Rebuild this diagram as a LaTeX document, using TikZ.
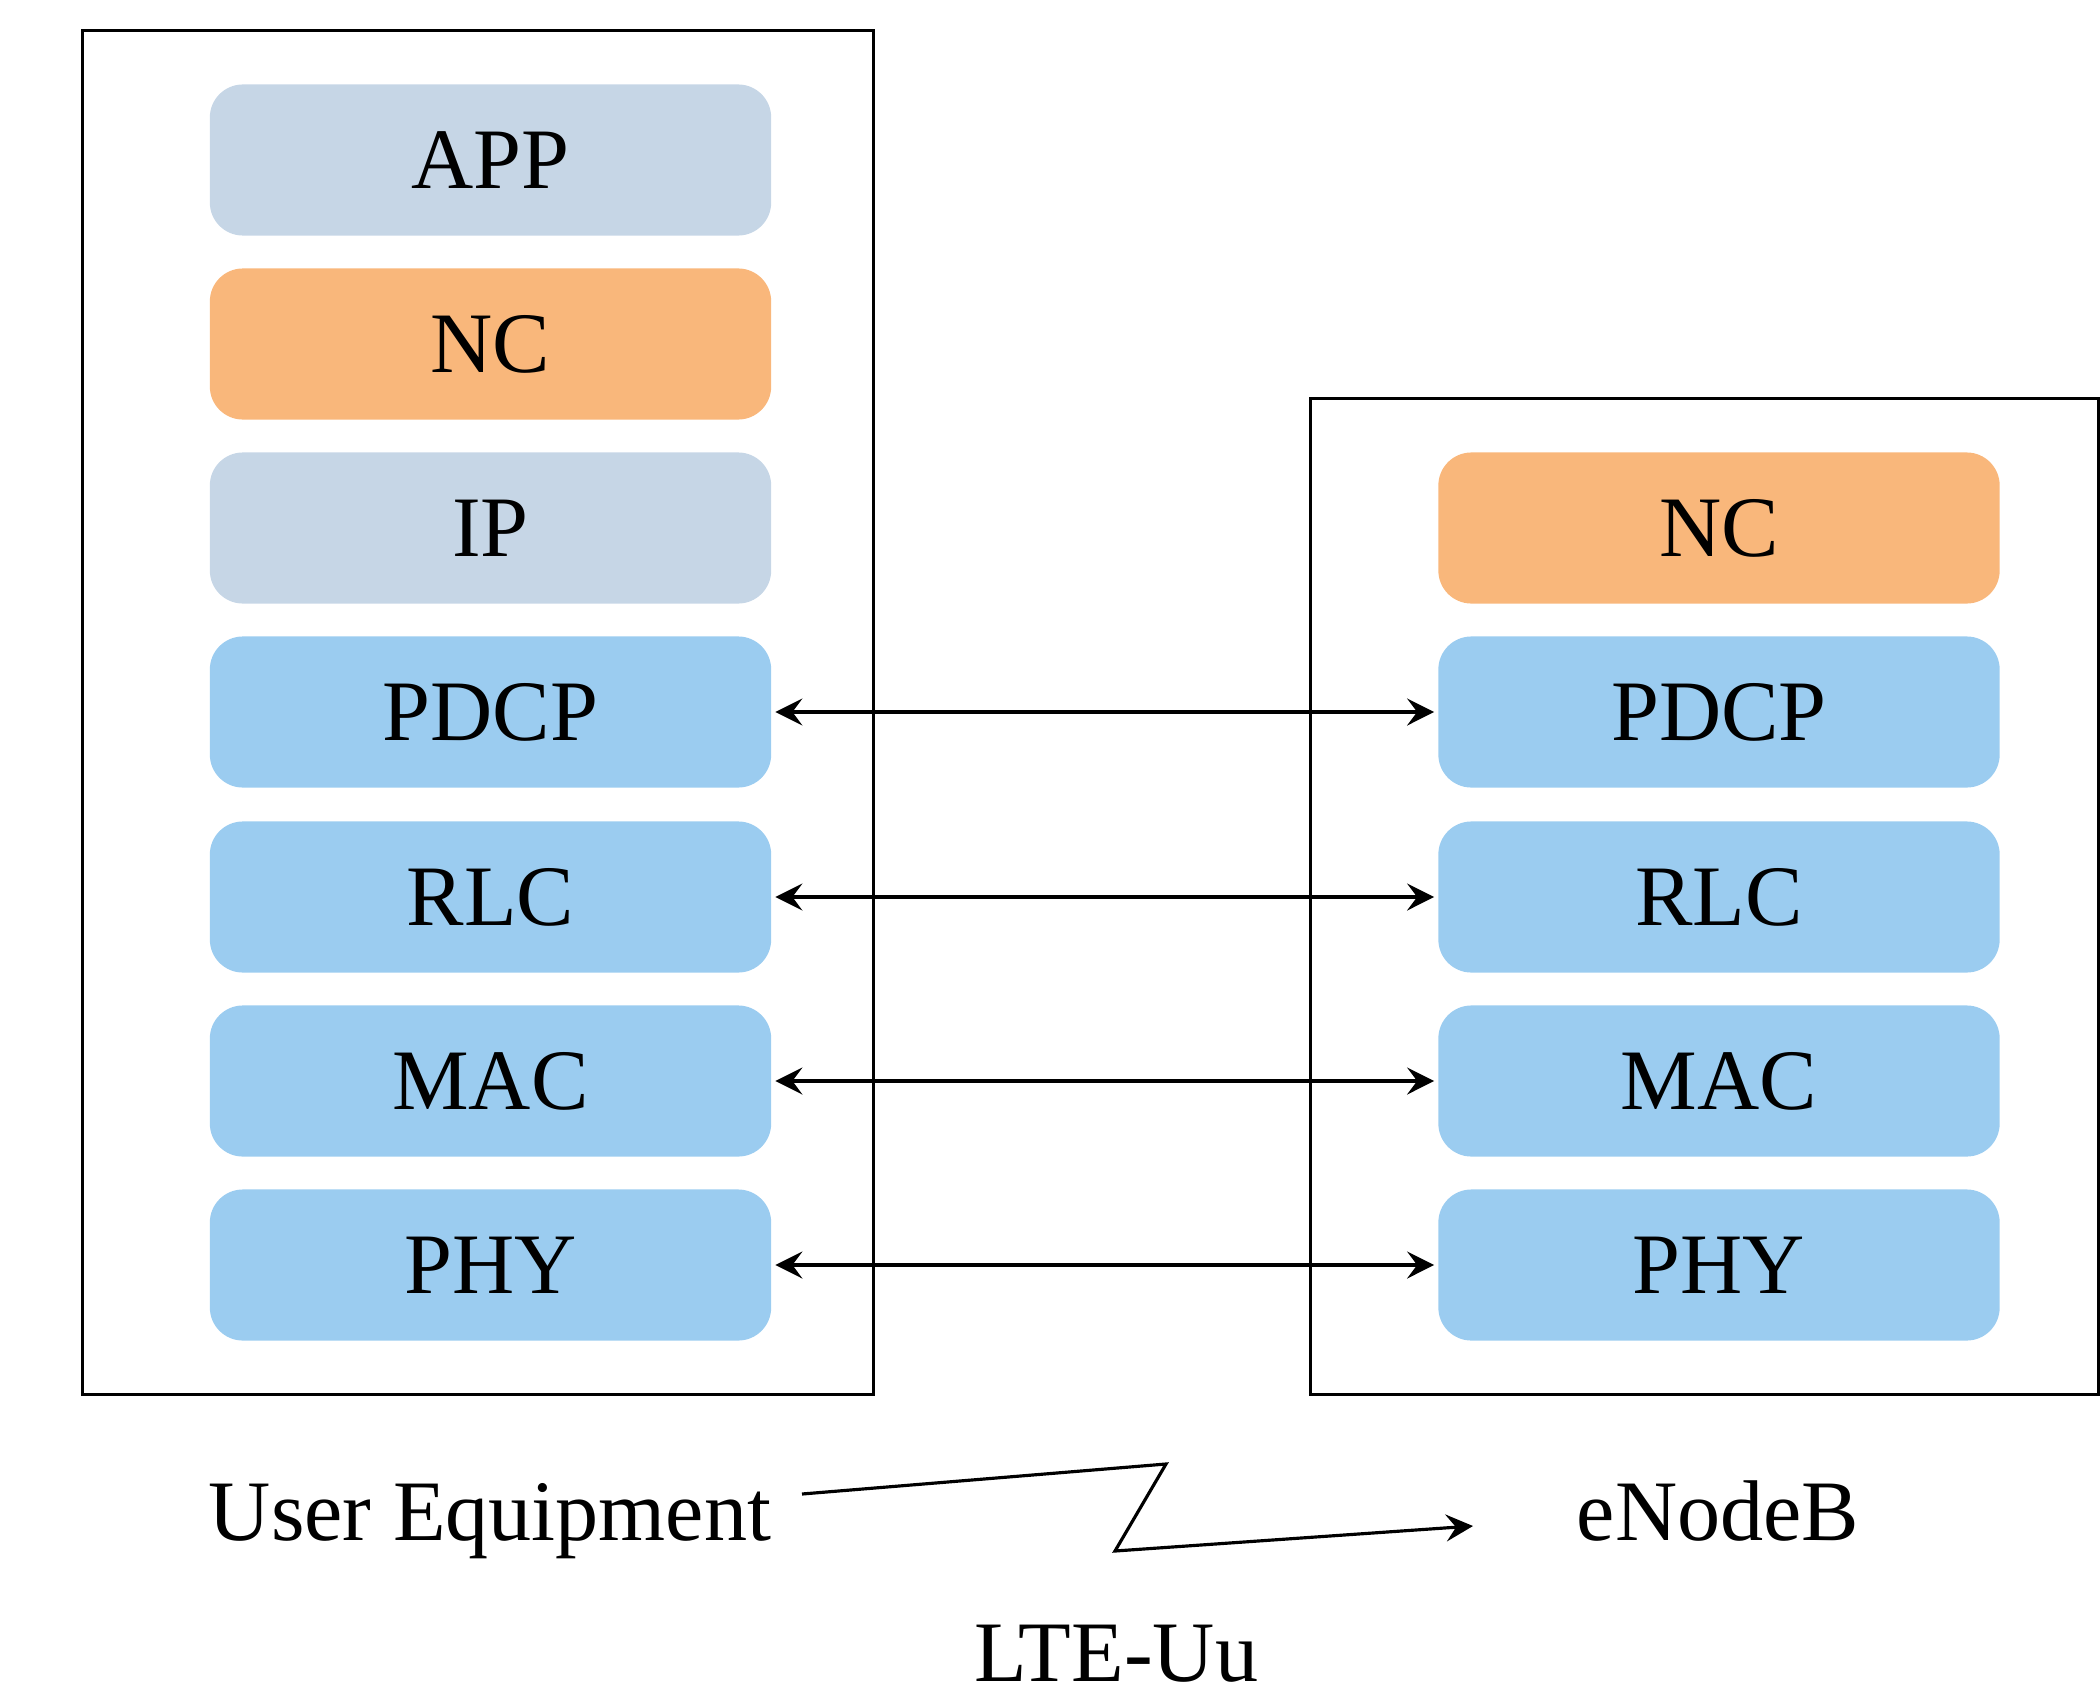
\documentclass[tikz,border=0pt]{standalone}
\usepackage{fontspec}
\setmainfont{Liberation Serif}
\usetikzlibrary{arrows.meta}
\definecolor{layergray}{RGB}{198,214,230}
\definecolor{layerorange}{RGB}{249,183,123}
\definecolor{layerblue}{RGB}{155,204,240}
\tikzset{
  layer/.style={rectangle, rounded corners=0.33cm, minimum width=5.61cm, minimum height=1.51cm, inner sep=0pt, text=black, font=\fontsize{24.5}{29}\selectfont},
  graylayer/.style={layer, fill=layergray},
  orangelayer/.style={layer, fill=layerorange},
  bluelayer/.style={layer, fill=layerblue},
  frame/.style={rectangle, draw=black, line width=0.9pt, inner sep=0pt},
  peer/.style={line width=0.9pt, {Stealth[length=0.27cm,width=0.27cm,inset=0.1cm]}-{Stealth[length=0.27cm,width=0.27cm,inset=0.1cm]}, shorten <=1pt, shorten >=1pt},
  radio/.style={line width=0.9pt, -{Stealth[length=0.27cm,width=0.27cm,inset=0.1cm]}},
  caption/.style={font=\fontsize{24.5}{29}\selectfont, anchor=base, inner sep=0pt}
}
\begin{document}
\begin{tikzpicture}[x=0.01cm,y=-0.01cm]
\useasboundingbox (0,0) rectangle (2100,1694);
% frames
\node[frame, minimum width=7.90cm, minimum height=13.63cm] (uebox) at (478,712.5) {};
\node[frame, minimum width=7.87cm, minimum height=9.95cm] (enbbox) at (1704.5,896.5) {};
% UE stack
\node[graylayer] (uapp) at (490.5,160) {APP};
\node[orangelayer] (unc) at (490.5,344) {NC};
\node[graylayer] (uip) at (490.5,528) {IP};
\node[bluelayer] (updcp) at (490.5,712) {PDCP};
\node[bluelayer] (urlc) at (490.5,897) {RLC};
\node[bluelayer] (umac) at (490.5,1081) {MAC};
\node[bluelayer] (uphy) at (490.5,1265) {PHY};
% eNodeB stack
\node[orangelayer] (enc) at (1719,528) {NC};
\node[bluelayer] (epdcp) at (1719,712) {PDCP};
\node[bluelayer] (erlc) at (1719,897) {RLC};
\node[bluelayer] (emac) at (1719,1081) {MAC};
\node[bluelayer] (ephy) at (1719,1265) {PHY};
% peer arrows
\draw[peer] (updcp) -- (epdcp);
\draw[peer] (urlc) -- (erlc);
\draw[peer] (umac) -- (emac);
\draw[peer] (uphy) -- (ephy);
% labels
\node[caption] (uelabel) at (490,1540) {User Equipment};
\node[caption] (enblabel) at (1718,1540) {eNodeB};
\node[caption, text depth=0pt] (ltelabel) at (1116,1681) {LTE-Uu};
% radio link
\coordinate (z1) at (802,1494);
\coordinate (z2) at (1166,1464);
\coordinate (z3) at (1115,1551);
\coordinate (z4) at (1473,1526);
\draw[radio] (z1) -- (z2) -- (z3) -- (z4);
\end{tikzpicture}
\end{document}
